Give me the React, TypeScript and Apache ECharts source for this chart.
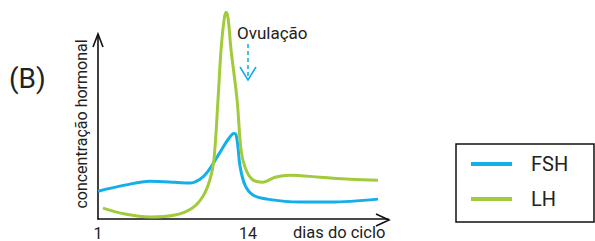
import React, { useEffect, useRef } from "react";
import * as echarts from "echarts";

const fshDays = [1.0, 3.34, 5.51, 7.67, 8.97, 9.84, 10.53, 11.57, 12.27, 12.79, 12.96, 13.13, 13.31, 13.74, 14.43, 15.64, 18.5, 21.1, 25.26];
const fshValues = [15.1, 18.4, 20.5, 20.0, 19.5, 21.6, 25.9, 36.2, 43.2, 46.5, 45.9, 38.9, 28.6, 18.4, 13.0, 10.8, 9.2, 9.2, 10.8];

const lhDays = [1.43, 3.34, 5.51, 7.67, 9.15, 10.1, 10.71, 11.05, 11.4, 11.66, 11.92, 12.09, 12.27, 12.53, 13.05, 13.39, 13.74, 14.35, 15.3, 16.34, 17.64, 20.24, 22.84, 25.26];
const lhValues = [5.9, 2.7, 1.1, 2.2, 5.9, 12.4, 21.6, 32.4, 64.9, 91.9, 108.1, 112.4, 109.2, 91.9, 64.9, 37.8, 28.1, 21.6, 20.0, 22.7, 23.8, 22.7, 21.6, 21.1];

const xTickLabels = [1, 14];
const seriesNames = ["FSH", "LH"];
const FONT = "Roboto, 'Noto Sans', sans-serif";
const BLUE = "#14aee9";
const GREEN = "#a2cb3b";
const TXT = "#222222";

export default function App() {
  const ref = useRef<HTMLDivElement>(null);
  useEffect(() => {
    const chart = echarts.init(ref.current!, null, { renderer: "svg" });
    const fsh = fshDays.map((d, i) => [d, fshValues[i]]);
    const lh = lhDays.map((d, i) => [d, lhValues[i]]);
    chart.setOption({
      animation: false,
      backgroundColor: "#ffffff",
      grid: { left: 98, right: 207, top: 35, bottom: 21 },
      xAxis: {
        type: "value",
        min: 1,
        max: 26.13,
        axisLine: { show: true, lineStyle: { color: "#111", width: 1.6 } },
        axisTick: { show: false },
        splitLine: { show: false },
        axisLabel: {
          customValues: xTickLabels,
          color: TXT,
          fontFamily: FONT,
          fontSize: 16,
          margin: 6,
        },
      },
      yAxis: {
        type: "value",
        min: 0,
        max: 100,
        axisLine: { show: true, lineStyle: { color: "#111", width: 1.6 } },
        axisTick: { show: false },
        splitLine: { show: false },
        axisLabel: { show: false },
      },
      legend: {
        orient: "vertical",
        left: 471,
        top: 154,
        itemWidth: 41,
        itemHeight: 20,
        itemGap: 15,
        padding: 0,
        data: seriesNames.map((n) => ({ name: n, icon: "path://M0,0 L40,0 L40,4 L0,4 Z" })),
        textStyle: { color: TXT, fontFamily: FONT, fontSize: 20, padding: [0, 0, 0, 14] },
      },
      series: [
        {
          name: seriesNames[0],
          type: "line",
          data: fsh,
          smooth: 0.35,
          symbol: "none",
          clip: false,
          color: BLUE,
          lineStyle: { color: BLUE, width: 3 },
        },
        {
          name: seriesNames[1],
          type: "line",
          data: lh,
          smooth: 0.35,
          symbol: "none",
          clip: false,
          color: GREEN,
          lineStyle: { color: GREEN, width: 3 },
        },
      ],
      graphic: [
        { type: "rect", shape: { x: 456, y: 144, width: 138, height: 78 }, style: { fill: "none", stroke: "#111", lineWidth: 1.5 } },
        { type: "polyline", shape: { points: [[93, 47], [98, 34], [103, 47]] }, style: { fill: "none", stroke: "#111", lineWidth: 1.6 } },
        { type: "polyline", shape: { points: [[376, 214], [389, 220], [376, 226]] }, style: { fill: "none", stroke: "#111", lineWidth: 1.6 } },
        { type: "text", left: 9, top: 64, style: { text: "(B)", fontSize: 28, fontFamily: FONT, fill: TXT } },
        { type: "text", x: 81, y: 124, rotation: Math.PI / 2, style: { text: "concentração hormonal", fontSize: 16, fontFamily: FONT, fill: TXT, align: "center", verticalAlign: "middle" } },
        { type: "text", left: 293, top: 224, style: { text: "dias do ciclo", fontSize: 16.5, fontFamily: FONT, fill: TXT } },
        { type: "text", left: 237, top: 24, style: { text: "Ovulação", fontSize: 17, fontFamily: FONT, fill: TXT } },
        { type: "line", shape: { x1: 248, y1: 44, x2: 248, y2: 79 }, style: { stroke: BLUE, lineWidth: 1.6, lineDash: [4, 3] } },
        { type: "polyline", shape: { points: [[240, 67], [248, 80], [256, 67]] }, style: { fill: "none", stroke: BLUE, lineWidth: 1.6 } },
      ],
    });
    return () => chart.dispose();
  }, []);
  return <div ref={ref} style={{ width: 595, height: 241, position: "absolute", left: 0, top: 0 }} />;
}
